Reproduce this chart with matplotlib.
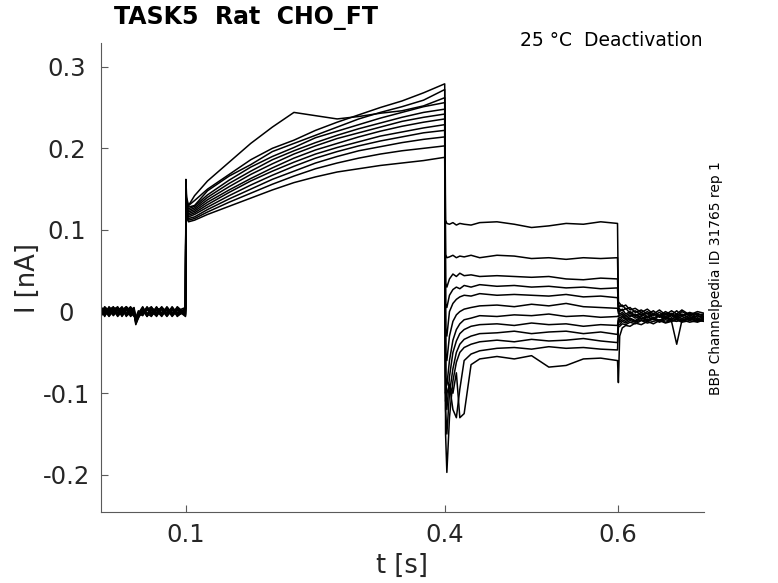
import matplotlib
matplotlib.use("Agg")
import matplotlib.pyplot as plt

plt.rcParams['axes.unicode_minus'] = False
plt.rcParams['font.family'] = ['DejaVu Sans']

# sample times (s) shared by all sweeps, one list per protocol segment
t_base = [0.0017, 0.006, 0.011, 0.016, 0.021, 0.026, 0.031, 0.036, 0.04, 0.042,
          0.045, 0.05, 0.055, 0.06, 0.066, 0.072, 0.078, 0.084, 0.09, 0.0995]
t_act = [0.1, 0.1008, 0.103, 0.11, 0.125, 0.15, 0.175, 0.2, 0.225, 0.25,
         0.275, 0.3, 0.325, 0.35, 0.375, 0.3995]
t_tail = [0.4005, 0.402, 0.405, 0.409, 0.413, 0.417, 0.422, 0.43, 0.44, 0.46,
          0.48, 0.5, 0.52, 0.54, 0.56, 0.58, 0.5995]
t_post = [0.6005, 0.602, 0.605, 0.609, 0.614, 0.62, 0.627, 0.634, 0.641, 0.648,
          0.655, 0.662, 0.668, 0.674, 0.683, 0.692, 0.6996]

# current (nA), one row per sweep
i_base = [
    [0.004, -0.003, 0.005, -0.002, 0.003, -0.004, 0.006, 0.0, -0.003, -0.012, -0.006, 0.003, -0.004, 0.005, -0.002, 0.004, -0.005, 0.003, -0.001, 0.002],
    [-0.003, 0.005, -0.004, 0.004, -0.005, 0.003, -0.002, 0.005, 0.001, -0.009, -0.002, -0.005, 0.004, -0.003, 0.006, -0.004, 0.002, -0.005, 0.004, -0.002],
    [0.002, -0.005, 0.002, 0.006, -0.003, 0.005, -0.005, -0.002, 0.004, -0.015, -0.008, 0.002, -0.006, 0.003, -0.004, 0.005, -0.002, 0.004, -0.006, 0.003],
    [-0.005, 0.002, -0.006, 0.001, 0.005, -0.002, 0.004, -0.006, -0.001, -0.011, -0.004, 0.005, -0.002, -0.006, 0.003, -0.001, 0.005, -0.003, 0.005, -0.004],
    [0.006, -0.001, 0.003, -0.005, 0.001, 0.006, -0.003, 0.003, -0.005, -0.007, 0.001, -0.003, 0.006, -0.001, -0.005, 0.003, -0.004, 0.006, -0.002, 0.004],
    [-0.001, 0.004, -0.002, 0.003, -0.006, 0.0, 0.005, -0.004, 0.002, -0.013, -0.005, 0.004, -0.003, 0.004, 0.001, -0.006, 0.003, -0.001, 0.003, -0.005],
    [0.003, -0.006, 0.004, -0.003, 0.004, -0.005, 0.001, 0.006, -0.004, -0.01, -0.006, -0.001, 0.005, -0.004, 0.004, 0.002, -0.006, 0.002, -0.004, 0.001],
    [-0.004, 0.003, -0.001, 0.005, -0.002, 0.004, -0.006, 0.002, 0.005, -0.008, -0.002, 0.006, -0.005, 0.002, -0.006, 0.004, 0.001, -0.004, 0.006, -0.003],
    [0.005, 0.0, -0.005, 0.002, 0.006, -0.003, 0.003, -0.005, -0.002, -0.016, -0.007, 0.001, 0.003, -0.005, 0.005, -0.003, 0.004, -0.006, 0.001, 0.005],
    [-0.002, 0.006, 0.001, -0.004, 0.002, 0.004, -0.004, 0.004, 0.0, -0.012, -0.003, -0.004, 0.002, 0.006, -0.003, 0.005, -0.003, 0.005, -0.005, 0.0],
    [0.001, -0.004, 0.006, 0.0, -0.004, 0.002, 0.006, -0.001, -0.006, -0.009, -0.005, 0.004, -0.006, 0.001, 0.003, -0.005, 0.006, -0.002, 0.002, -0.006],
    [-0.006, 0.002, -0.003, 0.004, 0.004, -0.006, 0.002, 0.004, 0.003, -0.014, -0.004, -0.002, 0.004, -0.003, -0.001, 0.006, -0.002, 0.003, -0.003, 0.003],
]
i_act = [
    [0.162, 0.14, 0.13, 0.136, 0.15, 0.168, 0.186, 0.2, 0.21, 0.222, 0.232, 0.241, 0.25, 0.258, 0.268, 0.279],
    [0.15, 0.136, 0.13, 0.142, 0.16, 0.183, 0.206, 0.226, 0.244, 0.24, 0.236, 0.239, 0.243, 0.246, 0.252, 0.262],
    [0.156, 0.133, 0.128, 0.13, 0.148, 0.166, 0.18, 0.196, 0.206, 0.216, 0.226, 0.236, 0.244, 0.251, 0.259, 0.272],
    [0.148, 0.13, 0.126, 0.129, 0.143, 0.161, 0.177, 0.19, 0.201, 0.213, 0.221, 0.229, 0.237, 0.244, 0.251, 0.256],
    [0.145, 0.128, 0.124, 0.127, 0.14, 0.157, 0.172, 0.186, 0.197, 0.207, 0.216, 0.224, 0.231, 0.238, 0.244, 0.248],
    [0.152, 0.127, 0.122, 0.125, 0.137, 0.153, 0.168, 0.181, 0.193, 0.203, 0.212, 0.219, 0.226, 0.233, 0.238, 0.242],
    [0.14, 0.125, 0.12, 0.123, 0.134, 0.149, 0.163, 0.176, 0.188, 0.198, 0.206, 0.214, 0.221, 0.227, 0.232, 0.236],
    [0.138, 0.123, 0.118, 0.121, 0.131, 0.146, 0.16, 0.172, 0.183, 0.193, 0.201, 0.208, 0.215, 0.22, 0.225, 0.229],
    [0.144, 0.121, 0.116, 0.119, 0.128, 0.142, 0.155, 0.167, 0.178, 0.188, 0.196, 0.203, 0.209, 0.214, 0.219, 0.222],
    [0.134, 0.119, 0.114, 0.116, 0.125, 0.138, 0.15, 0.162, 0.172, 0.182, 0.19, 0.197, 0.202, 0.207, 0.211, 0.214],
    [0.132, 0.117, 0.112, 0.114, 0.122, 0.134, 0.145, 0.156, 0.166, 0.175, 0.182, 0.188, 0.193, 0.197, 0.2, 0.203],
    [0.13, 0.115, 0.11, 0.112, 0.119, 0.129, 0.139, 0.149, 0.158, 0.165, 0.171, 0.175, 0.179, 0.182, 0.185, 0.189],
]
i_tail = [
    [0.112, 0.108, 0.107, 0.109, 0.106, 0.108, 0.107, 0.106, 0.109, 0.11, 0.107, 0.103, 0.105, 0.108, 0.107, 0.11, 0.108],
    [0.07, 0.066, 0.067, 0.069, 0.066, 0.068, 0.067, 0.069, 0.066, 0.069, 0.068, 0.065, 0.066, 0.064, 0.066, 0.065, 0.066],
    [0.035, 0.03, 0.04, 0.046, 0.043, 0.047, 0.044, 0.045, 0.043, 0.044, 0.043, 0.042, 0.043, 0.04, 0.039, 0.041, 0.04],
    [0.01, 0.005, 0.02, 0.027, 0.03, 0.028, 0.032, 0.03, 0.033, 0.031, 0.032, 0.03, 0.031, 0.029, 0.03, 0.028, 0.029],
    [-0.02, -0.03, 0.0, 0.01, 0.015, 0.018, 0.02, 0.019, 0.022, 0.02, 0.021, 0.02, 0.019, 0.021, 0.018, 0.019, 0.017],
    [-0.05, -0.06, -0.03, -0.012, -0.004, 0.0, 0.003, 0.005, 0.007, 0.008, 0.006, 0.009, 0.007, 0.01, 0.006, 0.005, 0.004],
    [-0.08, -0.09, -0.06, -0.035, -0.022, -0.015, -0.01, -0.008, -0.005, -0.006, -0.004, -0.005, -0.003, -0.006, -0.005, -0.007, -0.006],
    [-0.1, -0.12, -0.08, -0.05, -0.036, -0.027, -0.022, -0.018, -0.016, -0.015, -0.017, -0.014, -0.016, -0.015, -0.018, -0.016, -0.017],
    [-0.12, -0.15, -0.1, -0.07, -0.05, -0.04, -0.034, -0.03, -0.027, -0.026, -0.024, -0.027, -0.025, -0.024, -0.027, -0.025, -0.028],
    [-0.15, -0.197, -0.13, -0.085, -0.062, -0.05, -0.044, -0.04, -0.037, -0.035, -0.037, -0.034, -0.036, -0.035, -0.033, -0.036, -0.038],
    [-0.11, -0.1, -0.09, -0.12, -0.13, -0.095, -0.06, -0.052, -0.048, -0.045, -0.044, -0.046, -0.043, -0.045, -0.044, -0.046, -0.047],
    [-0.1, -0.085, -0.09, -0.1, -0.075, -0.13, -0.125, -0.065, -0.058, -0.055, -0.058, -0.054, -0.068, -0.066, -0.058, -0.057, -0.06],
]
i_post = [
    [0.012, 0.01, 0.006, 0.008, 0.002, 0.004, -0.001, 0.003, -0.003, 0.002, -0.004, 0.001, -0.003, 0.002, -0.004, 0.0, -0.002],
    [0.009, 0.006, 0.008, 0.003, 0.005, -0.001, 0.002, -0.003, 0.001, -0.005, 0.0, -0.004, 0.001, -0.005, -0.001, -0.004, -0.003],
    [0.006, 0.003, 0.001, 0.004, -0.002, 0.001, -0.004, 0.0, -0.005, -0.001, -0.006, -0.002, -0.006, 0.0, -0.005, -0.002, -0.006],
    [0.003, 0.0, 0.003, -0.003, 0.0, -0.005, -0.001, -0.006, -0.002, -0.007, -0.002, -0.007, -0.003, -0.006, -0.002, -0.007, -0.004],
    [0.001, -0.003, -0.001, -0.005, -0.002, -0.006, -0.003, -0.008, -0.003, -0.006, -0.009, -0.004, -0.008, -0.003, -0.008, -0.005, -0.007],
    [-0.002, -0.005, -0.003, -0.007, -0.004, -0.008, -0.005, -0.002, -0.008, -0.004, -0.007, -0.01, -0.005, -0.009, -0.004, -0.009, -0.006],
    [-0.005, -0.008, -0.005, -0.009, -0.006, -0.003, -0.009, -0.006, -0.01, -0.005, -0.008, -0.004, -0.009, -0.006, -0.01, -0.005, -0.008],
    [-0.008, -0.011, -0.007, -0.01, -0.008, -0.011, -0.006, -0.01, -0.007, -0.011, -0.006, -0.009, -0.007, -0.011, -0.006, -0.01, -0.008],
    [-0.011, -0.013, -0.01, -0.012, -0.009, -0.012, -0.008, -0.011, -0.009, -0.012, -0.008, -0.011, -0.009, -0.012, -0.008, -0.011, -0.009],
    [-0.015, -0.016, -0.012, -0.014, -0.011, -0.013, -0.01, -0.012, -0.009, -0.013, -0.01, -0.012, -0.04, -0.011, -0.009, -0.012, -0.01],
    [-0.019, -0.018, -0.015, -0.016, -0.013, -0.015, -0.011, -0.014, -0.012, -0.01, -0.013, -0.011, -0.012, -0.01, -0.013, -0.011, -0.012],
    [-0.087, -0.03, -0.02, -0.017, -0.018, -0.014, -0.016, -0.012, -0.015, -0.011, -0.014, -0.012, -0.01, -0.013, -0.011, -0.013, -0.01],
]

fig = plt.figure(figsize=(7.78, 5.83), dpi=100)
ax = fig.add_axes([0.1298, 0.1218, 0.7751, 0.8044])

t_all = t_base + t_act + t_tail + t_post
for k in range(len(i_act)):
    ax.plot(t_all, i_base[k] + i_act[k] + i_tail[k] + i_post[k],
            color='black', lw=1.1)

ax.set_xlim(0.0017, 0.6996)
ax.set_ylim(-0.2455, 0.329)
ax.set_xticks([0.1, 0.4, 0.6])
ax.set_xticklabels(['0.1', '0.4', '0.6'])
ax.set_yticks([-0.2, -0.1, 0, 0.1, 0.2, 0.3])
ax.set_yticklabels(['-0.2', '-0.1', '0', '0.1', '0.2', '0.3'])

for side in ['top', 'right']:
    ax.spines[side].set_visible(False)
for side in ['left', 'bottom']:
    ax.spines[side].set_color('#5a5a5a')
    ax.spines[side].set_linewidth(0.8)

ax.tick_params(direction='in', length=5, width=0.8, color='#5a5a5a',
               labelcolor='#262626', labelsize=17.5)
ax.tick_params(axis='x', pad=8)
ax.tick_params(axis='y', pad=25)
for lab in ax.get_yticklabels():
    lab.set_horizontalalignment('center')

ax.set_xlabel('t [s]', fontsize=18.5, color='#262626')
ax.xaxis.set_label_coords(0.5, -0.088)
ax.set_ylabel('I [nA]', fontsize=18.5, color='#262626')
ax.yaxis.set_label_coords(-0.1, 0.5)

fig.text(114 / 778, 1 - 18 / 583, 'TASK5  Rat  CHO_FT', fontsize=17,
         fontweight='bold', ha='left', va='center')
fig.text(703 / 778, 1 - 40 / 583, '25 °C  Deactivation', fontsize=13.5,
         ha='right', va='center')
fig.text(716 / 778, 1 - 278 / 583, 'BBP Channelpedia ID 31765 rep 1',
         fontsize=9.9, rotation=90, ha='center', va='center')

fig.savefig('out.png', dpi=100)
